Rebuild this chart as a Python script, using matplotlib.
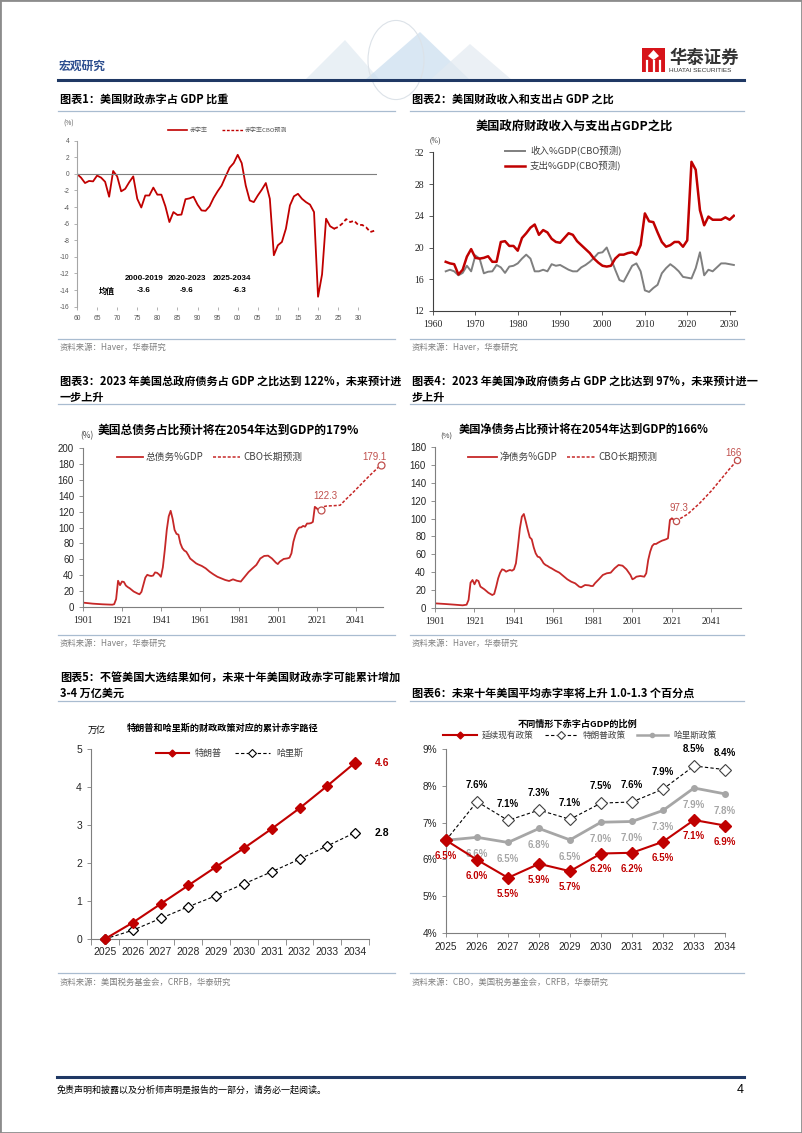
import matplotlib

matplotlib.use("Agg")
import matplotlib.pyplot as plt
import numpy as np
from matplotlib.lines import Line2D
from matplotlib.patches import Rectangle, Polygon, Circle

# ---------------- data ----------------
# 图表1 财政赤字率 (%)
def_years = list(range(1960, 2025))
def_vals = [0.0, -0.45, -1.1, -0.85, -0.9, -0.2, -0.45, -0.95, -2.75, 0.35,
            -0.3, -2.1, -1.8, -1.0, -0.3, -3.0, -4.05, -2.6, -2.6, -1.65,
            -2.5, -2.5, -3.9, -5.8, -4.6, -4.95, -4.9, -3.05, -2.95, -2.75,
            -3.7, -4.4, -4.45, -3.9, -2.9, -2.1, -1.4, -0.3, 0.75, 1.3,
            2.3, 1.3, -1.4, -3.2, -3.4, -2.6, -1.9, -1.1, -3.0, -9.8,
            -8.6, -8.2, -6.6, -3.8, -2.7, -2.4, -3.0, -3.4, -3.7, -4.6,
            -14.8, -12.1, -5.4, -6.3, -6.6]
cbo_years = list(range(2024, 2035))
cbo_vals = [-6.6, -6.4, -6.0, -5.45, -5.8, -5.65, -6.15, -6.15, -6.45, -7.0, -6.85]
avg_periods = ["2000-2019", "2020-2023", "2025-2034"]
avg_vals = ["-3.6", "-9.6", "-6.3"]

# 图表2 收入/支出占GDP (%)
rs_years = list(range(1963, 2032))
spend = [18.2, 18.0, 17.9, 16.6, 17.2, 18.85, 19.8,
         18.7, 18.6, 18.7, 18.9, 18.2, 18.2, 20.7, 20.8, 20.2, 20.2,
         19.6, 21.2, 21.8, 22.5, 22.9, 21.6, 22.2, 21.9, 21.1, 20.7,
         20.6, 21.2, 21.8, 21.6, 20.8, 20.3, 19.8, 19.3, 18.6, 18.1,
         17.7, 17.6, 17.7, 18.6, 19.1, 19.1, 19.3, 19.4, 19.1, 20.3,
         24.3, 23.3, 23.2, 21.9, 20.7, 20.1, 20.3, 20.7, 20.7, 20.1,
         20.9, 30.8, 29.8, 24.7, 22.8, 23.9, 23.5, 23.5, 23.5, 23.8,
         23.5, 24.0]
revenue = [17.0, 17.2, 17.0, 16.5, 16.8, 17.7, 17.0,
           19.0, 18.6, 16.75, 16.95, 17.0, 17.8, 17.5, 16.8, 17.6, 17.7,
           18.0, 18.6, 19.1, 18.6, 17.0, 17.0, 17.2, 17.0, 17.9, 17.7,
           17.8, 17.5, 17.2, 17.0, 17.0, 17.5, 17.8, 18.2, 18.7, 19.3,
           19.4, 20.0, 18.6, 17.2, 15.9, 15.7, 16.7, 17.7, 18.0, 17.0,
           14.6, 14.4, 14.9, 15.3, 16.75, 17.4, 17.9, 17.5, 17.0, 16.3,
           16.2, 16.1, 17.4, 19.4, 16.5, 17.2, 17.0, 17.5, 18.0, 18.0,
           17.9, 17.8]

# 图表3 总债务%GDP
gross_years = [1901, 1906, 1911, 1916, 1917, 1918, 1919, 1920, 1921, 1922, 1923, 1924,
               1925, 1927, 1929, 1930, 1931, 1932, 1933, 1934, 1935, 1936, 1937, 1938,
               1939, 1940, 1941, 1942, 1943, 1944, 1945, 1946, 1947, 1948, 1949, 1950,
               1951, 1952, 1953, 1954, 1955, 1956, 1957, 1958, 1959, 1960, 1962, 1964,
               1966, 1968, 1970, 1972, 1974, 1976, 1978, 1980, 1982, 1984, 1986, 1988,
               1990, 1992, 1994, 1996, 1998, 2000, 2001, 2002, 2004, 2006, 2007, 2008,
               2009, 2010, 2011, 2012, 2013, 2014, 2015, 2016, 2017, 2018, 2019, 2020,
               2021, 2022, 2023]
gross_vals = [5.5, 4.2, 3.4, 2.9, 3.5, 10, 33, 27.5, 32, 31.5, 27, 25,
              23.5, 19.5, 17, 16, 19, 28, 37, 40.5, 39.5, 39, 39.5, 43.5,
              43, 41, 38, 50, 72, 97, 114, 121, 111, 97, 92, 91,
              80, 74, 71, 69.5, 65.5, 61, 59, 57, 55, 53.7, 51.6, 48.6,
              44.4, 41, 38, 36, 34, 32.7, 34.8, 33, 32, 38, 44, 48.6,
              53, 61, 64.2, 64.6, 61, 55.8, 54, 57, 60.4, 61.2, 62, 67.5,
              82, 90.6, 97, 100, 100.2, 102, 101, 105, 105, 105.5, 107, 126,
              124, 121.5, 122.3]
gross_proj_years = [2023, 2024, 2026, 2030, 2033, 2036, 2040, 2044, 2048, 2051, 2054]
gross_proj_vals = [122.3, 126, 127, 127.5, 128, 135.5, 145, 155, 165, 172, 179.1]

# 图表4 净债务%GDP
net_years = [1901, 1906, 1911, 1915, 1917, 1918, 1919, 1920, 1921, 1922, 1923, 1924,
             1926, 1928, 1930, 1931, 1932, 1933, 1934, 1935, 1936, 1937, 1938, 1939,
             1940, 1941, 1942, 1943, 1944, 1945, 1946, 1947, 1948, 1949, 1950, 1951,
             1952, 1953, 1954, 1955, 1956, 1957, 1958, 1959, 1960, 1962, 1964, 1966,
             1968, 1970, 1972, 1974, 1975, 1977, 1979, 1980, 1981, 1982, 1984, 1986,
             1988, 1990, 1992, 1994, 1996, 1998, 2000, 2001, 2002, 2003, 2005, 2007,
             2008, 2009, 2010, 2011, 2012, 2013, 2014, 2015, 2016, 2017, 2018, 2019,
             2020, 2021, 2022, 2023]
net_vals = [5.2, 4.5, 3.7, 3.0, 3.7, 9, 28.3, 31.3, 26.5, 31.3, 30.2, 23.9,
            20.9, 17.1, 14.5, 15.7, 23.9, 33.2, 39.5, 43.2, 42.5, 40.6, 41.7, 42.5,
            41.7, 43.2, 50, 68.6, 89, 102.1, 105.1, 96.5, 87.2, 79, 76.8, 67.8,
            61.1, 57.4, 56.7, 53.7, 50, 48.1, 47, 45.5, 44.4, 41.7, 39.5, 35.8,
            32.1, 29.4, 27.6, 23.9, 23.1, 25.7, 25.3, 24.6, 24.6, 27.6, 32.1, 36.9,
            38.8, 39.5, 44.4, 48.1, 47.3, 43.2, 36.9, 32.1, 33.2, 35, 35.8, 35,
            38.8, 53.7, 63, 69.3, 71.6, 71.6, 73, 74.2, 75.3, 76, 76.8, 77.9,
            98.4, 100.3, 98.4, 97.3]
net_proj_years = [2023, 2026, 2029, 2032, 2035, 2038, 2041, 2044, 2047, 2050, 2052, 2054]
net_proj_vals = [97.3, 101, 105, 111, 117, 124, 131, 139, 147, 155, 160, 166]

# 图表5 累计赤字 (万亿)
path_years = ["2025", "2026", "2027", "2028", "2029", "2030", "2031", "2032", "2033", "2034"]
trump_cum = [0, 0.43, 0.92, 1.41, 1.90, 2.39, 2.90, 3.44, 4.03, 4.64]
harris_cum = [0, 0.23, 0.54, 0.85, 1.14, 1.45, 1.77, 2.10, 2.45, 2.80]

# 图表6 赤字占GDP (%)
cur_policy = [6.52, 5.99, 5.5, 5.88, 5.68, 6.16, 6.18, 6.48, 7.07, 6.92]
trump_policy = [6.52, 7.57, 7.06, 7.34, 7.09, 7.53, 7.56, 7.91, 8.54, 8.44]
harris_policy = [6.52, 6.6, 6.46, 6.84, 6.53, 7.01, 7.03, 7.33, 7.94, 7.78]

# ---------------- style ----------------
W, H = 802, 1133
CJK = ["Noto Sans CJK SC", "DejaVu Sans"]
SANS = ["Liberation Sans", "Noto Sans CJK SC"]
SERIF = ["Liberation Serif", "Noto Sans CJK SC"]
RED = "#C00000"
DRED = "#C62828"
LRED = "#C0504D"
NAVY = "#1F3864"
RULE = "#A9BCD0"
GREY_TXT = "#808080"

plt.rcParams["font.family"] = CJK
plt.rcParams["axes.unicode_minus"] = False

fig = plt.figure(figsize=(W / 100, H / 100), dpi=100)


def box(x0, y0, x1, y1):
    return [x0 / W, 1 - y1 / H, (x1 - x0) / W, (y1 - y0) / H]


def txt(x, y, s, **kw):
    kw.setdefault("va", "center")
    fig.text(x / W, 1 - y / H, s, **kw)


def seg(x0, x1, y, **kw):
    fig.add_artist(Line2D([x0 / W, x1 / W], [1 - y / H, 1 - y / H], **kw))


def mark(x, y, **kw):
    fig.add_artist(Line2D([x / W], [1 - y / H], **kw))


def frame(ax, color="#7F7F7F"):
    for s in ("top", "right"):
        ax.spines[s].set_visible(False)
    for s in ("left", "bottom"):
        ax.spines[s].set_color(color)
        ax.spines[s].set_linewidth(0.8)
    ax.tick_params(colors=color, labelcolor="#262626", length=3, width=0.6)
    ax.patch.set_alpha(0)


# ---------------- page furniture ----------------
fig.add_artist(Rectangle((0, 0), 1, 1, transform=fig.transFigure, fill=False,
                         edgecolor="#8C8C8C", lw=2))

# header graphic (faint globe + chevrons)
for pts, c in [([(305, 80), (345, 40), (380, 80)], "#E1EAF2"),
               ([(365, 80), (420, 32), (470, 80)], "#C9DDEF"),
               ([(430, 80), (470, 44), (512, 80)], "#E3EAF1")]:
    fig.add_artist(Polygon([(x / W, 1 - y / H) for x, y in pts], closed=True,
                           transform=fig.transFigure, facecolor=c, edgecolor="none", alpha=0.7))
fig.add_artist(Circle((396 / W, 1 - 60 / H), 28 / W, transform=fig.transFigure,
                      fill=False, edgecolor="#DCE2E8", lw=0.8))

txt(59, 66, "宏观研究", fontsize=8.5, fontweight="bold", color="#2E4F8F")
seg(58, 744, 80, color=NAVY, lw=2.2)

# logo
fig.add_artist(Rectangle((642 / W, 1 - 72 / H), 23 / W, 24 / H, transform=fig.transFigure,
                         facecolor="#D7141A", edgecolor="none"))
for dx in (647, 653.5, 660):
    fig.add_artist(Line2D([dx / W, dx / W], [1 - 71 / H, 1 - 61 / H], color="white", lw=1.6))
fig.add_artist(Polygon([(653.5 / W, 1 - 50 / H), (659 / W, 1 - 56 / H), (653.5 / W, 1 - 60 / H),
                        (648 / W, 1 - 56 / H)], transform=fig.transFigure, facecolor="white"))
txt(669, 58, "华泰证券", fontsize=12.5, fontweight="bold", color="#333333")
txt(669, 71, "HUATAI SECURITIES", fontsize=4.6, family=SANS, color="#333333")

# section titles and rules
txt(60, 100, "图表1：美国财政赤字占 GDP 比重", fontsize=8, fontweight="bold")
txt(412, 100, "图表2：美国财政收入和支出占 GDP 之比", fontsize=8, fontweight="bold")
seg(58, 395, 111, color=RULE, lw=0.9)
seg(410, 744, 111, color=RULE, lw=0.9)

txt(60, 382, "图表3：2023 年美国总政府债务占 GDP 之比达到 122%，未来预计进",
    fontsize=8, fontweight="bold")
txt(60, 397, "一步上升", fontsize=8, fontweight="bold")
txt(412, 382, "图表4：2023 年美国净政府债务占 GDP 之比达到 97%，未来预计进一",
    fontsize=8, fontweight="bold")
txt(412, 397, "步上升", fontsize=8, fontweight="bold")
seg(58, 395, 404, color=RULE, lw=0.9)
seg(410, 744, 404, color=RULE, lw=0.9)

txt(60, 678, "图表5：不管美国大选结果如何，未来十年美国财政赤字可能累计增加",
    fontsize=8, fontweight="bold")
txt(60, 693, "3-4 万亿美元", fontsize=8, fontweight="bold")
txt(412, 693, "图表6：未来十年美国平均赤字率将上升 1.0-1.3 个百分点",
    fontsize=8, fontweight="bold")
seg(58, 395, 701, color=RULE, lw=0.9)
seg(410, 744, 701, color=RULE, lw=0.9)

# sources
for y_line, y_txt, left, right in [(339, 347, "资料来源：Haver，华泰研究", "资料来源：Haver，华泰研究"),
                                   (635, 643, "资料来源：Haver，华泰研究", "资料来源：Haver，华泰研究"),
                                   (973, 982, "资料来源：美国税务基金会，CRFB，华泰研究",
                                    "资料来源：CBO，美国税务基金会，CRFB，华泰研究")]:
    seg(58, 395, y_line, color=RULE, lw=0.9)
    seg(410, 744, y_line, color=RULE, lw=0.9)
    txt(60, y_txt, left, fontsize=6, color=GREY_TXT)
    txt(412, y_txt, right, fontsize=6, color=GREY_TXT)

# footer
seg(57, 744, 1077, color=NAVY, lw=2.2)
txt(57, 1090, "免责声明和披露以及分析师声明是报告的一部分，请务必一起阅读。", fontsize=6.5,
    style="italic")
txt(744, 1090, "4", fontsize=9, ha="right", family=SANS)

# ---------------- 图表1 ----------------
ax1 = fig.add_axes(box(77, 140.7, 376.7, 306.7))
ax1.plot(def_years, def_vals, color=RED, lw=1.3)
ax1.plot(cbo_years, cbo_vals, color=RED, lw=1.3, ls=(0, (2.2, 1.4)))
ax1.axhline(0, color="#7F7F7F", lw=0.8)
ax1.set_xlim(1960, 2034.6)
ax1.set_ylim(-16, 4)
ax1.set_yticks(range(-16, 5, 2))
ax1.set_xticks(range(1960, 2031, 5))
ax1.set_xticklabels([f"{y % 100:02d}" for y in range(1960, 2031, 5)])
frame(ax1, "#A6A6A6")
ax1.spines["bottom"].set_visible(False)
ax1.tick_params(axis="x", length=0, pad=4)
ax1.tick_params(labelsize=4.8, labelcolor="#595959", length=2)
for lab in ax1.get_xticklabels() + ax1.get_yticklabels():
    lab.set_family(SANS)
txt(63, 124, "(%)", fontsize=4.8, color="#595959")
seg(168, 187, 130, color=RED, lw=1.2)
txt(190, 130, "赤字率", fontsize=4.3, color="#595959")
seg(222, 243, 130, color=RED, lw=1.0, ls=(0, (2, 1.2)))
txt(245, 130, "赤字率CBO预测", fontsize=4.3, color="#595959")
for xc, p, v in zip([144, 187, 232], avg_periods, avg_vals):
    txt(xc, 279, p, fontsize=5.8, fontweight="bold", ha="center", family=SANS)
    txt(xc + (0 if xc < 200 else 8), 291, v, fontsize=5.8, fontweight="bold", ha="center",
        family=SANS)
txt(107, 291, "均值", fontsize=5.8, fontweight="bold", ha="center")

# ---------------- 图表2 ----------------
txt(574, 127, "美国政府财政收入与支出占GDP之比", fontsize=8.8, fontweight="bold", ha="center")
ax2 = fig.add_axes(box(433, 152.3, 734.7, 311))
ax2.plot(rs_years, revenue, color="#7F7F7F", lw=1.4)
ax2.plot(rs_years, spend, color=RED, lw=1.8)
ax2.set_xlim(1960, 2031.2)
ax2.set_ylim(12, 32)
ax2.set_yticks(range(12, 33, 4))
ax2.set_xticks(range(1960, 2031, 10))
frame(ax2, "#404040")
ax2.tick_params(labelsize=7)
for lab in ax2.get_xticklabels() + ax2.get_yticklabels():
    lab.set_family(SERIF)
txt(430, 140, "(%)", fontsize=5.5, color="#404040", family=SERIF)
seg(505, 525, 150.7, color="#7F7F7F", lw=1.4)
txt(530, 150.7, "收入%GDP(CBO预测)", fontsize=6.8, color="#404040")
seg(505, 525, 165.7, color=RED, lw=1.8)
txt(530, 165.7, "支出%GDP(CBO预测)", fontsize=6.8, color="#404040")

# ---------------- 图表3 ----------------
txt(228, 430, "美国总债务占比预计将在2054年达到GDP的179%", fontsize=8.5, fontweight="bold",
    ha="center")
ax3 = fig.add_axes(box(83, 448, 383, 607))
ax3.plot(gross_years, gross_vals, color=DRED, lw=1.3)
ax3.plot(gross_proj_years, gross_proj_vals, color=DRED, lw=1.1, ls=(0, (2, 1.2)))
ax3.plot([gross_proj_years[0], gross_proj_years[-1]], [gross_proj_vals[0], gross_proj_vals[-1]],
         ls="none", marker="o", ms=5, mfc="white", mec=LRED, mew=0.9, clip_on=False)
ax3.set_xlim(1901, 2055)
ax3.set_ylim(0, 200)
ax3.set_yticks(range(0, 201, 20))
ax3.set_xticks(range(1901, 2042, 20))
frame(ax3, "#7F7F7F")
ax3.tick_params(labelsize=7)
for lab in ax3.get_yticklabels():
    lab.set_family(SANS)
for lab in ax3.get_xticklabels():
    lab.set_family(SERIF)
txt(80, 436, "(%)", fontsize=6, color="#404040")
seg(117, 143, 457, color=DRED, lw=1.3)
txt(146, 457, "总债务%GDP", fontsize=7, color="#404040")
seg(213, 240, 457, color=DRED, lw=1.1, ls=(0, (2, 1.2)))
txt(243, 457, "CBO长期预测", fontsize=7, color="#404040")
ax3.annotate(f"{gross_proj_vals[0]:.1f}", (gross_proj_years[0], gross_proj_vals[0]),
             xytext=(3.6, 9.6), textcoords="offset points", ha="center", va="center",
             color=LRED, fontsize=7, family=SANS)
ax3.annotate(f"{gross_proj_vals[-1]:.1f}", (gross_proj_years[-1], gross_proj_vals[-1]),
             xytext=(-5, 5.5), textcoords="offset points", ha="center", va="center",
             color=LRED, fontsize=7, family=SANS)

# ---------------- 图表4 ----------------
txt(584, 429, "美国净债务占比预计将在2054年达到GDP的166%", fontsize=8.1, fontweight="bold",
    ha="center")
ax4 = fig.add_axes(box(435, 447, 741, 608))
ax4.plot(net_years, net_vals, color=DRED, lw=1.3)
ax4.plot(net_proj_years, net_proj_vals, color=DRED, lw=1.1, ls=(0, (2, 1.2)))
ax4.plot([net_proj_years[0], net_proj_years[-1]], [net_proj_vals[0], net_proj_vals[-1]],
         ls="none", marker="o", ms=4.5, mfc="white", mec=LRED, mew=0.9, clip_on=False)
ax4.set_xlim(1901, 2056)
ax4.set_ylim(0, 180)
ax4.set_yticks(range(0, 181, 20))
ax4.set_xticks(range(1901, 2042, 20))
frame(ax4, "#7F7F7F")
ax4.tick_params(labelsize=7)
for lab in ax4.get_yticklabels():
    lab.set_family(SANS)
for lab in ax4.get_xticklabels():
    lab.set_family(SERIF)
txt(440, 437, "(%)", fontsize=5.5, color="#404040")
seg(468, 497, 457, color=DRED, lw=1.3)
txt(500, 457, "净债务%GDP", fontsize=7, color="#404040")
seg(567, 595, 457, color=DRED, lw=1.1, ls=(0, (2, 1.2)))
txt(598, 457, "CBO长期预测", fontsize=7, color="#404040")
ax4.annotate(f"{net_proj_vals[0]:.1f}", (net_proj_years[0], net_proj_vals[0]),
             xytext=(2.5, 9.6), textcoords="offset points", ha="center", va="center",
             color=LRED, fontsize=7, family=SANS)
ax4.annotate(f"{net_proj_vals[-1]:.0f}", (net_proj_years[-1], net_proj_vals[-1]),
             xytext=(-2.4, 5), textcoords="offset points", ha="center", va="center",
             color=LRED, fontsize=7, family=SANS)

# ---------------- 图表5 ----------------
txt(223, 728, "特朗普和哈里斯的财政政策对应的累计赤字路径", fontsize=6.6, fontweight="bold",
    ha="center")
txt(88, 730, "万亿", fontsize=6.5)
ax5 = fig.add_axes(box(91, 749, 369, 939))
xi = np.arange(len(path_years))
ax5.plot(xi, harris_cum, color="black", lw=0.8, ls=(0, (3, 2)), marker="D", ms=5,
         mfc="white", mec="black", mew=0.9, clip_on=False, zorder=3)
ax5.plot(xi, trump_cum, color=RED, lw=1.5, marker="D", ms=5, mfc=RED, mec=RED,
         clip_on=False, zorder=4)
ax5.plot(xi[-1], trump_cum[-1], marker="D", ms=6.5, color=RED, clip_on=False, zorder=5)
ax5.set_xlim(-0.5, 9.5)
ax5.set_ylim(0, 5)
ax5.set_xticks(xi)
ax5.set_xticklabels(path_years)
ax5.set_xticks(np.arange(-0.5, 10, 1), minor=True)
frame(ax5, "#7F7F7F")
ax5.tick_params(axis="x", which="major", length=0, pad=6)
ax5.tick_params(axis="x", which="minor", length=4, width=0.6, color="#7F7F7F")
ax5.tick_params(labelsize=7.5)
for lab in ax5.get_xticklabels() + ax5.get_yticklabels():
    lab.set_family(SANS)
ax5.annotate(f"{trump_cum[-1]:.1f}", (xi[-1], trump_cum[-1]), xytext=(14, 0),
             textcoords="offset points", va="center", color=RED, fontsize=7.5,
             fontweight="bold", family=SANS, annotation_clip=False)
ax5.annotate(f"{harris_cum[-1]:.1f}", (xi[-1], harris_cum[-1]), xytext=(14, 0),
             textcoords="offset points", va="center", color="black", fontsize=7.5,
             fontweight="bold", family=SANS, annotation_clip=False)
seg(156, 189, 753, color=RED, lw=1.5)
mark(172, 753, marker="D", ms=3.5, color=RED)
txt(195, 753, "特朗普", fontsize=6.5, color="#404040")
seg(235, 270, 753, color="black", lw=0.8, ls=(0, (3, 2)))
mark(252, 753, marker="D", ms=4, mfc="white", mec="black", mew=0.8)
txt(276, 753, "哈里斯", fontsize=6.5, color="#404040")

# ---------------- 图表6 ----------------
txt(578, 724, "不同情形下赤字占GDP的比例", fontsize=6.6, fontweight="bold", ha="center")
ax6 = fig.add_axes(box(446, 749, 725, 933))
ax6.plot(xi, harris_policy, color="#A6A6A6", lw=2, marker="o", ms=4, mfc="#A6A6A6",
         mec="#A6A6A6", clip_on=False, zorder=3)
ax6.plot(xi, trump_policy, color="black", lw=0.8, ls=(0, (3, 2)), marker="D", ms=6.5,
         mfc="white", mec="#404040", mew=0.8, clip_on=False, zorder=4)
ax6.plot(xi, cur_policy, color=RED, lw=1.5, marker="D", ms=6, mfc=RED, mec=RED,
         clip_on=False, zorder=5)
ax6.set_xlim(0, 9)
ax6.set_ylim(4, 9)
ax6.set_xticks(xi)
ax6.set_xticklabels(path_years)
ax6.set_yticks(range(4, 10))
ax6.set_yticklabels([f"{v}%" for v in range(4, 10)])
frame(ax6, "#7F7F7F")
ax6.tick_params(labelsize=7.2, length=3)
for lab in ax6.get_xticklabels() + ax6.get_yticklabels():
    lab.set_family(SANS)
for i in xi:
    ax6.annotate(f"{cur_policy[i]:.1f}%", (i, cur_policy[i]), xytext=(0, -11.5),
                 textcoords="offset points", ha="center", va="center", color=RED,
                 fontsize=7, fontweight="bold", family=SANS, annotation_clip=False, zorder=6)
    if i == 0:
        continue
    ax6.annotate(f"{trump_policy[i]:.1f}%", (i, trump_policy[i]), xytext=(0, 12),
                 textcoords="offset points", ha="center", va="center", color="black",
                 fontsize=7, fontweight="bold", family=SANS, annotation_clip=False)
    ax6.annotate(f"{harris_policy[i]:.1f}%", (i, harris_policy[i]), xytext=(0, -12),
                 textcoords="offset points", ha="center", va="center", color="#A6A6A6",
                 fontsize=7, fontweight="bold", family=SANS, annotation_clip=False)
seg(443, 477, 735, color=RED, lw=1.5)
mark(460, 735, marker="D", ms=3.5, color=RED)
txt(482, 735, "延续现有政策", fontsize=6.2, color="#404040")
seg(545, 578, 735, color="black", lw=0.8, ls=(0, (3, 2)))
mark(561, 735, marker="D", ms=4, mfc="white", mec="#404040", mew=0.8)
txt(583, 735, "特朗普政策", fontsize=6.2, color="#404040")
seg(637, 668, 735, color="#A6A6A6", lw=1.8)
mark(652, 735, marker="o", ms=3, color="#A6A6A6")
txt(673, 735, "哈里斯政策", fontsize=6.2, color="#404040")

fig.savefig("out.png", dpi=100)
